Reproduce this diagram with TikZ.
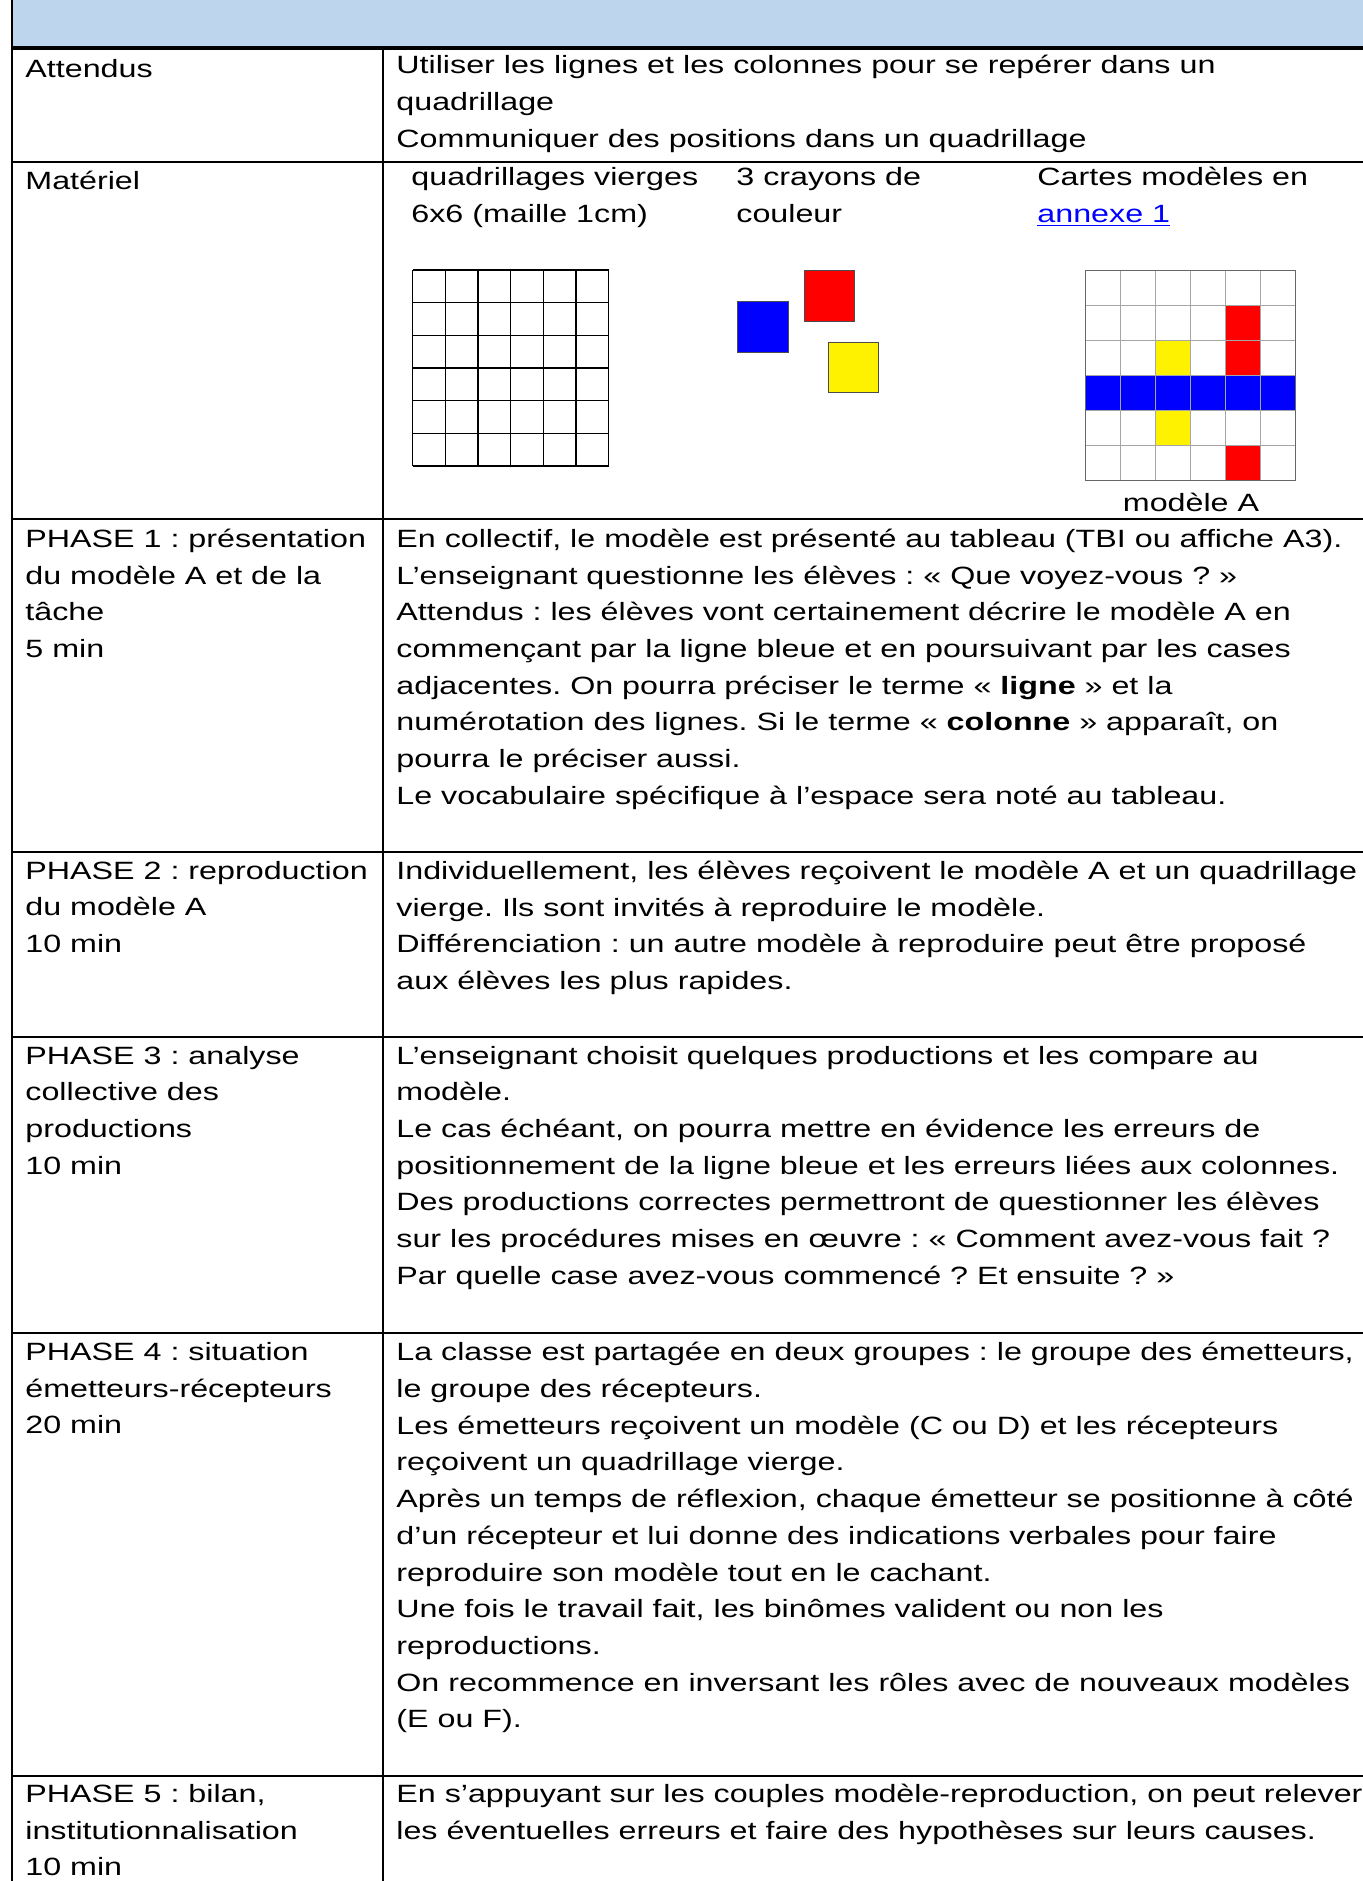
\documentclass[tikz,border=0pt]{standalone}
\usepackage{fontspec}
\setmainfont{Liberation Sans}[FakeStretch=1.29]
\definecolor{headblue}{HTML}{BDD6EE}
\frenchspacing
\begin{document}
\begin{tikzpicture}[x=0.5pt,y=-0.5pt,
    txt/.style={anchor=north west,yshift=11pt,inner sep=0pt,align=left,
      font=\fontsize{12.5}{18.35}\selectfont,execute at begin node={\rule{0pt}{11pt}}},
    rule/.style={line width=1.1pt},
    blank/.style={line width=0.7pt},
    model/.style={line width=0.6pt,draw=gray!70},
    crayon/.style={draw=gray!60!black,line width=0.5pt}]
  \useasboundingbox (0,0) rectangle (1362,1881);
  \fill[headblue] (12,0) rectangle (1370,48);
  \draw[rule] (12,0) -- (12,1890);
  \draw[rule] (383,48) -- (383,1890);
  \draw[line width=1.6pt] (12,48) -- (1370,48);
  \foreach \y in {162,519,852,1037,1333,1776}
    \draw[rule] (12,\y) -- (1370,\y);

  \node[txt] (attendus) at (25,77) {Attendus};
  \node[txt] (attendustxt) at (396,77) {Utiliser les lignes et les colonnes pour se repérer dans un\\
    quadrillage\\
    Communiquer des positions dans un quadrillage};

  \node[txt] (materiel) at (25,189) {Matériel};
  \node[txt] (quadvierges) at (411,189) {quadrillages vierges\\6x6 (maille 1cm)};
  \node[txt] (crayons) at (736,189) {3 crayons de\\couleur};
  \node[txt] (cartes) at (1037,189) {Cartes modèles en\\{\color{blue}\underline{annexe 1}}};

  \foreach \i in {0,...,6} {
    \draw[blank] (412.6+\i*32.67,270) -- ++(0,196);
    \draw[blank] (412.6,270+\i*32.67) -- ++(196,0);
  }

  \filldraw[crayon,fill=blue] (737,301) rectangle (788,352);
  \filldraw[crayon,fill=red] (804,270) rectangle (854,321);
  \filldraw[crayon,fill=yellow] (828,342) rectangle (878,392);

  \foreach \c/\r in {4/1,4/2,4/5}
    \fill[red] (1085.5+\c*35,270.5+\r*35) rectangle ++(35,35);
  \foreach \c/\r in {2/2,2/4}
    \fill[yellow] (1085.5+\c*35,270.5+\r*35) rectangle ++(35,35);
  \fill[blue] (1085.5,375.5) rectangle ++(210,35);
  \foreach \i in {1,...,5} {
    \draw[model] (1085.5+\i*35,270.5) -- ++(0,210);
    \draw[model] (1085.5,270.5+\i*35) -- ++(210,0);
  }
  \draw[line width=0.7pt,draw=gray!80!black] (1085.5,270.5) rectangle ++(210,210);
  \node[inner sep=0pt,anchor=base,font=\fontsize{12.5}{18.35}\selectfont] (modeleA) at (1191,511) {modèle A};

  \node[txt] (phase1) at (25,550.5) {PHASE 1 : présentation\\du modèle A et de la\\tâche\\5 min};
  \node[txt] (phase1txt) at (396,550.5) {En collectif, le modèle est présenté au tableau (TBI ou affiche A3).\\
    L’enseignant questionne les élèves : «~Que voyez-vous ?~»\\
    Attendus : les élèves vont certainement décrire le modèle A en\\
    commençant par la ligne bleue et en poursuivant par les cases\\
    adjacentes. On pourra préciser le terme «~\textbf{ligne}~» et la\\
    numérotation des lignes. Si le terme «~\textbf{colonne}~» apparaît, on\\
    pourra le préciser aussi.\\
    Le vocabulaire spécifique à l’espace sera noté au tableau.};

  \node[txt] (phase2) at (25,882.5) {PHASE 2 : reproduction\\du modèle A\\10 min};
  \node[txt] (phase2txt) at (396,882.5) {Individuellement, les élèves reçoivent le modèle A et un quadrillage\\
    vierge. Ils sont invités à reproduire le modèle.\\
    Différenciation : un autre modèle à reproduire peut être proposé\\
    aux élèves les plus rapides.};

  \node[txt] (phase3) at (25,1067.5) {PHASE 3 : analyse\\collective des\\productions\\10 min};
  \node[txt] (phase3txt) at (396,1067.5) {L’enseignant choisit quelques productions et les compare au\\
    modèle.\\
    Le cas échéant, on pourra mettre en évidence les erreurs de\\
    positionnement de la ligne bleue et les erreurs liées aux colonnes.\\
    Des productions correctes permettront de questionner les élèves\\
    sur les procédures mises en œuvre : «~Comment avez-vous fait ?\\
    Par quelle case avez-vous commencé ? Et ensuite ?~»};

  \node[txt] (phase4) at (25,1364) {PHASE 4 : situation\\émetteurs-récepteurs\\20 min};
  \node[txt] (phase4txt) at (396,1364) {La classe est partagée en deux groupes : le groupe des émetteurs,\\
    le groupe des récepteurs.\\
    Les émetteurs reçoivent un modèle (C ou D) et les récepteurs\\
    reçoivent un quadrillage vierge.\\
    Après un temps de réflexion, chaque émetteur se positionne à côté\\
    d’un récepteur et lui donne des indications verbales pour faire\\
    reproduire son modèle tout en le cachant.\\
    Une fois le travail fait, les binômes valident ou non les\\
    reproductions.\\
    On recommence en inversant les rôles avec de nouveaux modèles\\
    (E ou F).};

  \node[txt] (phase5) at (25,1806) {PHASE 5 : bilan,\\institutionnalisation\\10 min};
  \node[txt] (phase5txt) at (396,1806) {En s’appuyant sur les couples modèle-reproduction, on peut relever\\
    les éventuelles erreurs et faire des hypothèses sur leurs causes.};
\end{tikzpicture}
\end{document}
